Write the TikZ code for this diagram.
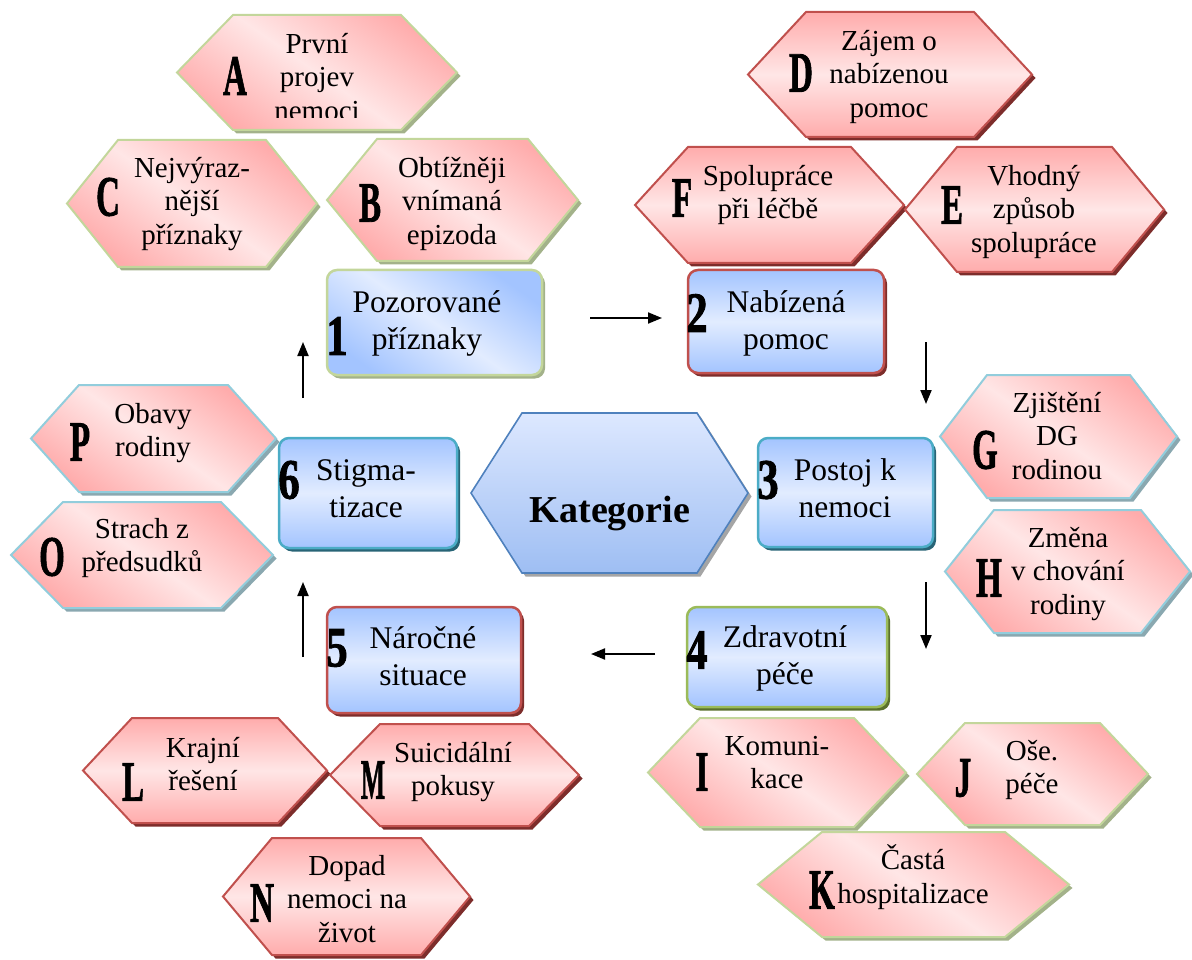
\documentclass[tikz,border=0pt]{standalone}
\usepackage{fontspec}
\setmainfont{Liberation Serif}
\newfontfamily\letfont{Liberation Serif}[BoldFeatures={FakeBold=1.6}]
\usepackage{graphicx}
\usetikzlibrary{arrows.meta}
\definecolor{pinkD}{RGB}{255,172,172}
\definecolor{pinkL}{RGB}{255,230,230}
\definecolor{blueD}{RGB}{163,196,255}
\definecolor{blueL}{RGB}{226,236,255}
\definecolor{grnB}{RGB}{195,214,155}
\definecolor{grnS}{RGB}{163,178,138}
\definecolor{redB}{RGB}{192,80,77}
\definecolor{redS}{RGB}{125,45,43}
\definecolor{tealB}{RGB}{146,205,220}
\definecolor{tealS}{RGB}{138,168,176}
\definecolor{cyanB}{RGB}{75,172,198}
\definecolor{cyanS}{RGB}{40,100,118}
\definecolor{oliveB}{RGB}{155,187,89}
\definecolor{oliveS}{RGB}{90,112,45}
\definecolor{katB}{RGB}{79,129,189}
\definecolor{katS}{RGB}{165,165,165}
\definecolor{katT}{RGB}{221,232,255}
\definecolor{katD}{RGB}{158,190,243}
\newcommand\hexa[8]{%
  \fill[#8, shift={(3.5,3.5)}] (#2,{(#4+#5)/2}) -- ({#2+#6},#4) -- ({#3-#6},#4) -- (#3,{(#4+#5)/2}) -- ({#3-#6},#5) -- ({#2+#6},#5) -- cycle;
  \draw[#7] (#2,{(#4+#5)/2}) -- ({#2+#6},#4) -- ({#3-#6},#4) -- (#3,{(#4+#5)/2}) -- ({#3-#6},#5) -- ({#2+#6},#5) -- cycle;
  \coordinate (#1) at ({(#2+#3)/2},{(#4+#5)/2});
}
\newcommand\boxn[8]{%
  \fill[#7, rounded corners=10] (#2+3,#4+3.5) rectangle (#3+3,#5+3.5);
  \node[boxshape, draw=#6, #8, minimum width={#3-#2}, minimum height={#5-#4}] (#1) at ({(#2+#3)/2},{(#4+#5)/2}) {};
}
\newcommand\lt[1]{\scalebox{0.58}[1]{#1}}
\newcommand\dg[1]{\scalebox{0.75}[1]{#1}}
\tikzset{
  hexg/.style={draw=grnB, line width=2, top color=pinkD, bottom color=pinkD, middle color=pinkL, shading angle=-35},
  hexr/.style={draw=redB, line width=2, top color=pinkD, bottom color=pinkD, middle color=pinkL},
  hext/.style={draw=tealB, line width=2, top color=pinkD, bottom color=pinkD, middle color=pinkL, shading angle=-35},
  boxshape/.style={rectangle, rounded corners=10, line width=2.5, inner sep=0},
  bluev/.style={top color=blueD, bottom color=blueD, middle color=blueL},
  bluediag/.style={top color=blueD, bottom color=blueD, middle color=blueL, shading angle=-35},
  hextxt/.style={inner sep=0, anchor=north, align=center, font=\fontsize{29}{33.5}\selectfont},
  boxtxt/.style={inner sep=0, anchor=north, align=center, font=\fontsize{31.5}{37}\selectfont},
  letter/.style={inner sep=0, font=\fontsize{57}{57}\letfont\bfseries},
  flow/.style={line width=2, -{Triangle[length=14,width=11]}},
}
\begin{document}
\begin{tikzpicture}[x=1pt,y=-1pt]
\useasboundingbox (0,0) rectangle (1192,960);
% hexagons
\hexa{hA}{177}{457}{15}{130}{56}{hexg}{grnS}
\hexa{hC}{67}{317}{140}{267}{51}{hexg}{grnS}
\hexa{hB}{327}{578}{139}{261}{50}{hexg}{grnS}
\hexa{hD}{748}{1032}{12}{137}{58}{hexr}{redS}
\hexa{hF}{635}{904}{147}{263}{53}{hexr}{redS}
\hexa{hE}{905}{1164}{147}{272}{52}{hexr}{redS}
\hexa{hG}{940}{1177}{375}{498}{47}{hext}{tealS}
\hexa{hH}{945}{1190}{510}{633}{49}{hext}{tealS}
\hexa{hI}{648}{906}{718}{827}{52}{hexg}{grnS}
\hexa{hJ}{917}{1148}{723}{825}{48}{hexg}{grnS}
\hexa{hK}{758}{1069}{832}{937}{64}{hexg}{grnS}
\hexa{hL}{83}{327}{718}{823}{49}{hexr}{redS}
\hexa{hM}{330}{579}{724}{826}{50}{hexr}{redS}
\hexa{hN}{223}{470}{838}{955}{49}{hexr}{redS}
\hexa{hP}{31}{276}{385}{492}{48}{hext}{tealS}
\hexa{hO}{11}{273}{502}{608}{52}{hext}{tealS}
% central hexagon
\hexa{hK0}{471}{748}{413}{573}{51}{draw=katB, line width=1.6, top color=katT, bottom color=katD}{katS}
\node[inner sep=0, anchor=base, font=\fontsize{38}{38}\selectfont\bfseries] (kat) at (610,522) {Kategorie};
% boxes
\boxn{b1}{327}{542}{270}{375}{grnB}{grnS}{bluediag}
\boxn{b2}{688}{884}{270}{373}{redB}{redS}{bluev}
\boxn{b3}{758}{933}{438}{547}{cyanB}{cyanS}{bluev}
\boxn{b4}{687}{887}{607}{707}{oliveB}{oliveS}{bluev}
\boxn{b5}{327}{521}{607}{713}{redB}{redS}{bluev}
\boxn{b6}{279}{457}{438}{548}{cyanB}{cyanS}{bluev}
% hexagon texts
\begin{scope}
\clip (150,0) rectangle (480,118);
\node[hextxt] (tA) at (317,29.5) {\strut První\\\strut projev\\\strut nemoci};
\end{scope}
\node[hextxt] (tB) at (452,153.5) {\strut Obtížněji\\\strut vnímaná\\\strut epizoda};
\node[hextxt] (tC) at (192,153.5) {\strut Nejvýraz-\\\strut nější\\\strut příznaky};
\node[hextxt] (tD) at (889,26.5) {\strut Zájem o\\\strut nabízenou\\\strut pomoc};
\node[hextxt] (tE) at (1034,161.5) {\strut Vhodný\\\strut způsob\\\strut spolupráce};
\node[hextxt] (tF) at (768,161.5) {\strut Spolupráce\\\strut při léčbě};
\node[hextxt] (tG) at (1057,388.5) {\strut Zjištění\\\strut DG\\\strut rodinou};
\node[hextxt] (tH) at (1068,523.5) {\strut Změna\\\strut v chování\\\strut rodiny};
\node[hextxt] (tI) at (777,731.5) {\strut Komuni-\\\strut kace};
\node[hextxt] (tJ) at (1032,736.5) {\strut Oše.\\\strut péče};
\node[hextxt] (tK) at (913,844.5) {\strut Častá\\\strut hospitalizace};
\node[hextxt] (tL) at (203,733.5) {\strut Krajní\\\strut řešení};
\node[hextxt] (tM) at (453,738.5) {\strut Suicidální\\\strut pokusy};
\node[hextxt] (tN) at (347,851.5) {\strut Dopad\\\strut nemoci na\\\strut život};
\node[hextxt] (tO) at (142,514.5) {\strut Strach z\\\strut předsudků};
\node[hextxt] (tP) at (153,399.5) {\strut Obavy\\\strut rodiny};
% box texts
\node[boxtxt] (t1) at (427,286) {\strut Pozorované\\\strut příznaky};
\node[boxtxt] (t2) at (786,286) {\strut Nabízená\\\strut pomoc};
\node[boxtxt] (t3) at (845,454) {\strut Postoj k\\\strut nemoci};
\node[boxtxt] (t4) at (785,621) {\strut Zdravotní\\\strut péče};
\node[boxtxt] (t5) at (423,622) {\strut Náročné\\\strut situace};
\node[boxtxt] (t6) at (366,454) {\strut Stigma-\\\strut tizace};
% letters
\node[letter] (lA) at (235,76) {\lt{A}};
\node[letter] (lB) at (370,203) {\lt{B}};
\node[letter] (lC) at (108,197) {\lt{C}};
\node[letter] (lD) at (801,73) {\lt{D}};
\node[letter] (lE) at (952,205) {\lt{E}};
\node[letter] (lF) at (682,198) {\lt{F}};
\node[letter] (lG) at (985,450) {\lt{G}};
\node[letter] (lH) at (989,578) {\lt{H}};
\node[letter] (lI) at (702,772) {\lt{I}};
\node[letter] (lJ) at (963,778) {\lt{J}};
\node[letter] (lK) at (822,890) {\lt{K}};
\node[letter] (lL) at (133,782) {\lt{L}};
\node[letter] (lM) at (373,780) {\scalebox{0.45}[1]{M}};
\node[letter] (lN) at (262,903) {\lt{N}};
\node[letter] (lO) at (52,557) {\lt{O}};
\node[letter] (lP) at (80,442) {\lt{P}};
% numbers
\node[letter] (n1) at (337,336) {\dg{1}};
\node[letter] (n2) at (697,313) {\dg{2}};
\node[letter] (n3) at (768,480) {\dg{3}};
\node[letter] (n4) at (697,650) {\dg{4}};
\node[letter] (n5) at (337,648) {\dg{5}};
\node[letter] (n6) at (289,480) {\dg{6}};
% flow arrows
\coordinate (a12s) at (590,318); \coordinate (a12e) at (662,318);
\coordinate (a23s) at (926,342); \coordinate (a23e) at (926,404);
\coordinate (a34s) at (926,582); \coordinate (a34e) at (926,649);
\coordinate (a45s) at (655,654); \coordinate (a45e) at (591,654);
\coordinate (a56s) at (303,657); \coordinate (a56e) at (303,582);
\coordinate (a61s) at (303,398); \coordinate (a61e) at (303,342);
\draw[flow] (a12s) -- (a12e);
\draw[flow] (a23s) -- (a23e);
\draw[flow] (a34s) -- (a34e);
\draw[flow] (a45s) -- (a45e);
\draw[flow] (a56s) -- (a56e);
\draw[flow] (a61s) -- (a61e);
\end{tikzpicture}
\end{document}
